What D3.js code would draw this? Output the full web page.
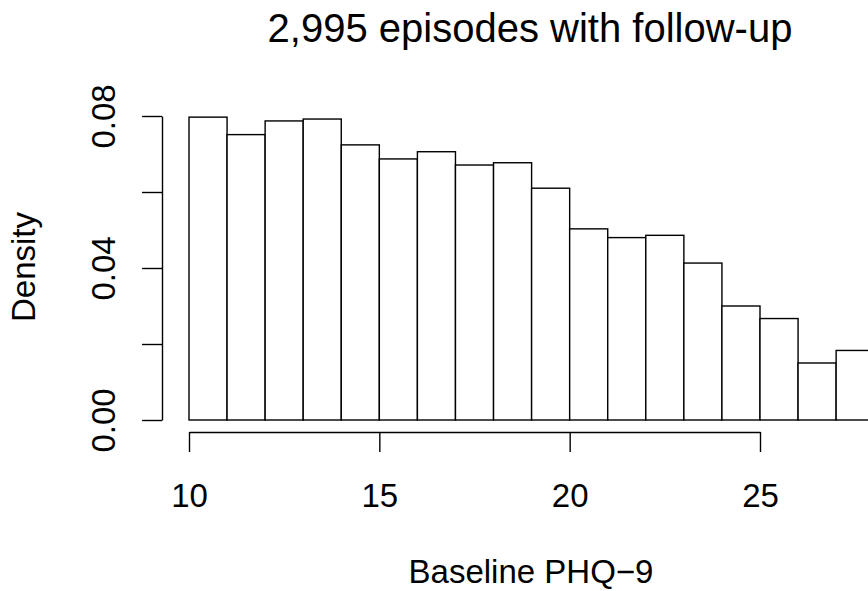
<!DOCTYPE html>
<html>
<head>
<meta charset="utf-8">
<script src="https://cdn.jsdelivr.net/npm/d3@7"></script>
<style>
  body { margin: 0; background: #fff; }
  svg { display: block; font-family: "Liberation Sans", Arial, Helvetica, sans-serif; }
</style>
</head>
<body>
<svg id="chart" width="868" height="591"></svg>
<script>
// histogram bins (Baseline PHQ-9), density per bin
const binStarts = [10, 11, 12, 13, 14, 15, 16, 17, 18, 19, 20, 21, 22, 23, 24, 25, 26, 27];
const densities = [0.0797, 0.0751, 0.0787, 0.0792, 0.0724, 0.0687, 0.0706, 0.0671, 0.0677,
                   0.0610, 0.0503, 0.0480, 0.0486, 0.0413, 0.0300, 0.0267, 0.0150, 0.0183];
const xTicks = [10, 15, 20, 25];
const yTicks = [0, 0.02, 0.04, 0.06, 0.08];
const yTickLabels = ['0.00', '', '0.04', '', '0.08'];

const titleText = '2,995 episodes with follow-up';
const xTitle = 'Baseline PHQ\u22129';
const yTitle = 'Density';

const svg = d3.select('#chart');

const x = d3.scaleLinear().domain([10, 25]).range([189, 760]);
const y = d3.scaleLinear().domain([0, 0.08]).range([420, 116]);

const bins = binStarts.map((b, i) => ({ x0: b, x1: b + 1, d: densities[i] }));

svg.append('g')
  .selectAll('rect')
  .data(bins)
  .enter()
  .append('rect')
  .attr('x', d => x(d.x0))
  .attr('y', d => y(d.d))
  .attr('width', d => x(d.x1) - x(d.x0))
  .attr('height', d => y(0) - y(d.d))
  .attr('fill', '#fff')
  .attr('stroke', '#000')
  .attr('stroke-width', 1.4);

// x axis, offset below the bars like base R
const xAxis = svg.append('g')
  .attr('transform', 'translate(0,432)')
  .call(d3.axisBottom(x).tickValues(xTicks).tickSize(20).tickSizeOuter(0).tickPadding(32));
xAxis.select('.domain').attr('stroke-width', 1.4);
xAxis.selectAll('.tick line').attr('stroke-width', 1.4);
xAxis.selectAll('.tick text')
  .attr('font-size', 33)
  .attr('fill', '#000')
  .attr('font-family', '"Liberation Sans", Arial, sans-serif');

// y axis
const yAxis = svg.append('g')
  .attr('transform', 'translate(162,0)')
  .call(d3.axisLeft(y).tickValues(yTicks).tickSize(20).tickSizeOuter(0).tickFormat((d, i) => yTickLabels[i]));
yAxis.select('.domain').attr('stroke-width', 1.4);
yAxis.selectAll('.tick line').attr('stroke-width', 1.4);
yAxis.selectAll('.tick text')
  .attr('font-size', 33)
  .attr('fill', '#000')
  .attr('font-family', '"Liberation Sans", Arial, sans-serif')
  .attr('x', null)
  .attr('dy', null)
  .attr('text-anchor', 'middle')
  .attr('transform', 'translate(-47,0) rotate(-90)');

svg.append('text')
  .attr('x', 530)
  .attr('y', 42)
  .attr('text-anchor', 'middle')
  .attr('font-size', 40)
  .text(titleText);

svg.append('text')
  .attr('x', 531)
  .attr('y', 583)
  .attr('text-anchor', 'middle')
  .attr('font-size', 33)
  .text(xTitle);

svg.append('text')
  .attr('transform', 'translate(35,267) rotate(-90)')
  .attr('text-anchor', 'middle')
  .attr('font-size', 33)
  .text(yTitle);
</script>
</body>
</html>
